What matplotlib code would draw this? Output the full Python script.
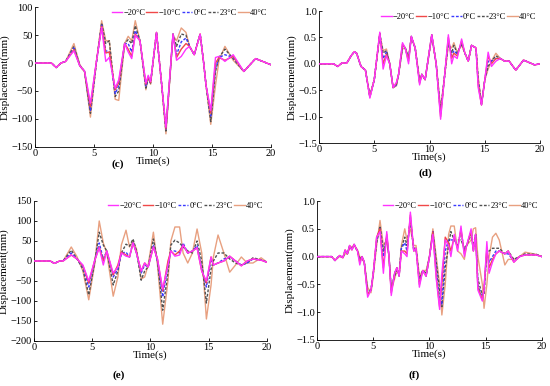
import matplotlib
matplotlib.use('Agg')
import matplotlib.pyplot as plt

plt.rcParams['font.family'] = ['Liberation Serif', 'DejaVu Serif']
plt.rcParams['mathtext.fontset'] = 'stix'

labels = ['\u221220°C', '\u221210°C', '0°C', '23°C', '40°C']

# panel (c)
t_c = [0, 1.4, 1.8, 2.2, 2.6, 3.3, 3.8, 4.2, 4.7, 5.2, 5.65, 6.0, 6.3, 6.8, 7.1,
       7.6, 7.9, 8.2, 8.5, 8.9, 9.4, 9.6, 9.8, 10.3, 10.7, 11.1, 11.7, 12.0, 12.4,
       12.8, 13.1, 13.5, 14.0, 14.3, 14.5, 14.9, 15.3, 15.6, 16.1, 16.8, 17.7, 18.7, 20]
c_m20 = [0, 0, -8, 0, 3, 22, -5, -14, -72, 2, 64, 3, 10, -45, -30, 35, 20, 8, 50, 40,
         -36, -22, -33, 55, -30, -115, 52, 5, 12, 25, 30, 15, 52, 0, -40, -85, 10, 12,
         3, 15, -15, 8, -3]
c_m10 = [0, 0, -8, 0, 3, 24, -5, -15, -78, 2, 66, 18, 20, -48, -35, 35, 25, 12, 52, 40,
         -38, -25, -35, 55, -30, -118, 52, 10, 25, 35, 30, 15, 52, 0, -40, -90, 0, 10,
         5, 12, -15, 8, -3]
c_0 = [0, 0, -8, 0, 3, 27, -5, -15, -85, 0, 68, 22, 20, -55, -40, 35, 35, 20, 58, 40,
       -42, -28, -35, 55, -30, -120, 52, 15, 38, 45, 30, 15, 52, 0, -40, -95, -10, 10,
       15, 10, -15, 8, -3]
c_23 = [0, 0, -8, 0, 3, 30, -4, -15, -90, 0, 72, 35, 40, -60, -50, 35, 42, 35, 67, 40,
        -45, -28, -36, 55, -30, -122, 52, 30, 52, 50, 30, 15, 52, 0, -40, -105, -15, 10,
        25, 8, -15, 8, -3]
c_40 = [0, 0, -8, 0, 3, 35, -3, -15, -97, 0, 76, 40, 40, -65, -67, 35, 48, 40, 76, 40,
        -48, -25, -38, 55, -30, -127, 50, 40, 63, 55, 30, 15, 52, 0, -40, -110, -40, 5,
        30, 5, -15, 8, -3]

# panel (d)
t_d = [0, 1.3, 1.7, 2.1, 2.5, 2.9, 3.2, 3.4, 3.8, 4.2, 4.6, 5.0, 5.5, 5.8, 6.1, 6.4,
       6.7, 7.0, 7.2, 7.55, 7.8, 8.1, 8.35, 8.7, 9.1, 9.3, 9.6, 10.2, 10.6, 11.0, 11.7,
       12.0, 12.2, 12.5, 12.9, 13.2, 13.5, 13.8, 14.2, 14.4, 14.7, 15.0, 15.3, 15.6,
       16.0, 16.4, 16.8, 17.2, 17.8, 18.5, 19.5, 20]
d_m20 = [0, 0, -0.05, 0.02, 0.01, 0.15, 0.23, 0.2, -0.05, -0.12, -0.65, -0.3, 0.6, -0.1,
         0.15, 0, -0.45, -0.35, -0.2, 0.4, 0.3, 0.0, 0.52, 0.3, -0.4, -0.2, -0.3, 0.55,
         0.0, -1.05, 0.55, 0.0, 0.15, 0.1, 0.47, 0.2, 0.05, 0.35, 0.3, -0.45, -0.78,
         -0.3, 0.22, -0.05, 0.05, 0.1, 0.05, 0.05, -0.12, 0.07, -0.02, 0]
d_m10 = [0, 0, -0.05, 0.02, 0.01, 0.15, 0.23, 0.2, -0.05, -0.12, -0.63, -0.3, 0.58, 0.0,
         0.18, 0, -0.45, -0.37, -0.2, 0.37, 0.3, 0.05, 0.52, 0.3, -0.37, -0.2, -0.3, 0.55,
         0.0, -1.0, 0.5, 0.1, 0.2, 0.15, 0.43, 0.2, 0.05, 0.35, 0.3, -0.4, -0.78,
         -0.3, 0.15, 0.0, 0.1, 0.1, 0.05, 0.05, -0.12, 0.07, -0.02, 0]
d_0 = [0, 0, -0.05, 0.02, 0.01, 0.15, 0.23, 0.2, -0.05, -0.12, -0.62, -0.3, 0.57, 0.1,
       0.22, 0, -0.45, -0.4, -0.2, 0.33, 0.3, 0.08, 0.52, 0.3, -0.35, -0.2, -0.3, 0.55,
       0.0, -0.95, 0.45, 0.15, 0.25, 0.18, 0.4, 0.2, 0.05, 0.35, 0.3, -0.35, -0.77,
       -0.3, 0.05, 0.05, 0.1, 0.1, 0.05, 0.05, -0.12, 0.07, -0.02, 0]
d_23 = [0, 0, -0.05, 0.02, 0.01, 0.15, 0.23, 0.2, -0.05, -0.12, -0.62, -0.3, 0.57, 0.2,
        0.25, 0, -0.45, -0.4, -0.2, 0.3, 0.3, 0.1, 0.5, 0.3, -0.33, -0.2, -0.3, 0.53,
        0.0, -0.9, 0.4, 0.2, 0.35, 0.2, 0.38, 0.2, 0.05, 0.35, 0.3, -0.3, -0.76,
        -0.3, -0.05, 0.05, 0.15, 0.1, 0.05, 0.05, -0.12, 0.07, -0.02, 0]
d_40 = [0, 0, -0.05, 0.02, 0.01, 0.15, 0.23, 0.2, -0.05, -0.12, -0.6, -0.3, 0.55, 0.25,
        0.28, 0, -0.45, -0.42, -0.2, 0.28, 0.3, 0.12, 0.5, 0.3, -0.3, -0.2, -0.3, 0.52,
        0.0, -0.85, 0.35, 0.3, 0.4, 0.22, 0.35, 0.2, 0.05, 0.35, 0.3, -0.25, -0.75,
        -0.3, -0.1, 0.05, 0.2, 0.1, 0.05, 0.05, -0.12, 0.07, -0.02, 0]

# panel (e)
t_e = [0, 1.4, 1.75, 2.2, 2.5, 3.2, 3.7, 4.2, 4.7, 5.2, 5.6, 5.95, 6.25, 6.8, 7.2,
       7.5, 7.9, 8.2, 8.5, 8.8, 9.2, 9.5, 9.8, 10.25, 10.6, 11.05, 11.5, 11.75, 12.1,
       12.5, 12.8, 13.2, 13.6, 14.0, 14.4, 14.8, 15.2, 15.4, 15.8, 16.3, 16.8, 17.3,
       17.8, 18.3, 18.8, 19.5, 20]
e_m20 = [0, 0, -6, 0, 0, 15, 5, -10, -50, 0, 33, -10, 25, -30, -15, 20, 12, 10, 45, 20,
         -25, -5, -15, 35, 5, -70, -10, 25, 12, 15, 40, 20, 25, 33, -25, -50, 10, -10,
         -5, 0, 12, 0, -12, 0, 5, 2, -3]
e_m10 = [0, 0, -6, 0, 0, 15, 5, -12, -55, 0, 35, 0, 25, -35, -10, 22, 15, 10, 45, 20,
         -25, -5, -15, 35, 5, -75, 0, 25, 15, 25, 40, 20, 25, 33, -25, -55, 10, -10,
         -5, 0, 12, 0, -12, 0, 5, 2, -3]
e_0 = [0, 0, -6, 0, 0, 20, 5, -15, -65, 0, 45, 5, 25, -40, -20, 20, 22, 10, 48, 20,
       -30, -10, -15, 40, 0, -90, -10, 25, 25, 20, 45, 20, 25, 38, -20, -65, 5, -10,
       -5, 5, 10, 0, -10, -5, 5, 2, -3]
e_23 = [0, 0, -6, 0, 0, 27, 5, -20, -85, -5, 72, 40, 25, -60, -25, 20, 42, 37, 55, 25,
        -48, -25, -15, 55, 0, -123, -30, 40, 52, 45, 35, 25, 20, 50, 0, -105, -20, 0,
        20, 20, 5, -5, -10, -5, 8, 3, -3]
e_40 = [0, 0, -6, 0, 0, 35, 10, -25, -97, -10, 100, 45, 20, -88, -40, 40, 77, 35, 50, 30,
        -45, -40, -10, 72, -10, -158, -50, 50, 85, 85, 20, -5, 20, 80, 20, -145, -60, 10,
        65, 20, -28, -10, 10, -5, -5, 8, -3]

# panel (f)
t_f = [0, 1.3, 1.6, 2.0, 2.3, 2.5, 2.7, 2.9, 3.1, 3.3, 3.6, 3.8, 4.0, 4.2, 4.5, 4.8,
       5.0, 5.3, 5.6, 5.9, 6.2, 6.4, 6.6, 6.9, 7.1, 7.3, 7.5, 7.8, 8.0, 8.3, 8.6, 8.8,
       9.1, 9.4, 9.7, 10.0, 10.3, 10.6, 10.9, 11.1, 11.4, 11.7, 11.9, 12.2, 12.5, 12.8,
       13.1, 13.3, 13.7, 13.9, 14.1, 14.3, 14.7, 14.85, 15.1, 15.3, 15.6, 15.9, 16.2,
       16.7, 17.0, 17.5, 18.0, 18.5, 19.5, 20]
f_m20 = [0, 0, -0.07, 0.02, -0.02, 0.12, 0.05, 0.2, 0.12, 0.22, 0.1, -0.15, 0.0, -0.1,
         -0.73, -0.6, -0.3, 0.35, 0.45, -0.3, 0.45, 0.0, -0.7, -0.3, -0.2, -0.35, 0.1,
         0.05, 0.0, 0.8, 0.1, 0.15, -0.55, -0.25, -0.35, 0.0, 0.4, -0.4, -0.95, -0.3,
         0.3, 0.2, 0.0, 0.4, 0.1, 0.55, 0.0, 0.2, 0.5, 0.1, 0.4, -0.6, -0.8, -0.6, 0.27,
         -0.3, -0.1, 0.05, 0.1, 0.05, 0.1, -0.1, 0.0, 0.03, 0.03, 0]
f_m10 = [0, 0, -0.07, 0.02, -0.02, 0.12, 0.05, 0.2, 0.12, 0.22, 0.1, -0.1, 0.0, -0.1,
         -0.68, -0.6, -0.3, 0.35, 0.5, -0.2, 0.4, 0.0, -0.65, -0.3, -0.2, -0.35, 0.1,
         0.1, 0.05, 0.75, 0.1, 0.15, -0.5, -0.25, -0.35, 0.0, 0.45, -0.35, -0.9, -0.5,
         0.35, 0.25, 0.1, 0.35, 0.15, 0.5, 0.05, 0.2, 0.45, 0.1, 0.4, -0.55, -0.78, -0.55,
         0.15, -0.2, -0.05, 0.05, 0.1, 0.05, 0.1, -0.1, 0.0, 0.03, 0.03, 0]
f_0 = [0, 0, -0.07, 0.02, -0.02, 0.12, 0.05, 0.2, 0.12, 0.22, 0.1, -0.08, 0.0, -0.1,
       -0.65, -0.6, -0.3, 0.3, 0.5, 0.0, 0.35, 0.0, -0.6, -0.3, -0.2, -0.35, 0.15,
       0.25, 0.1, 0.7, 0.1, 0.15, -0.45, -0.25, -0.35, 0.0, 0.45, -0.2, -0.8, -0.85,
       0.1, 0.3, 0.3, 0.3, 0.2, 0.45, 0.1, 0.2, 0.45, 0.1, 0.4, -0.5, -0.75, -0.6, 0.1,
       -0.1, 0.0, 0.1, 0.1, 0.05, 0.05, -0.08, 0.0, 0.03, 0.03, 0]
f_23 = [0, 0, -0.07, 0.02, -0.02, 0.1, 0.05, 0.18, 0.15, 0.2, 0.1, -0.05, 0.0, -0.1,
        -0.62, -0.6, -0.3, 0.25, 0.55, 0.1, 0.35, 0.0, -0.6, -0.35, -0.25, -0.3, 0.15,
        0.35, 0.2, 0.65, 0.15, 0.15, -0.4, -0.25, -0.3, 0.0, 0.45, -0.1, -0.6, -0.9,
        -0.2, 0.2, 0.45, 0.3, 0.3, 0.3, 0.15, 0.2, 0.4, 0.2, 0.4, -0.4, -0.7, -0.7, 0.1,
        0.1, 0.15, 0.15, 0.15, 0.05, 0.1, -0.05, 0.0, 0.05, 0.04, 0]
f_40 = [0, 0, -0.06, 0.0, -0.02, 0.05, 0.05, 0.15, 0.18, 0.2, 0.12, 0.0, -0.05, -0.1,
        -0.55, -0.65, -0.35, 0.2, 0.65, 0.2, 0.3, 0.0, -0.6, -0.4, -0.25, -0.3, 0.2,
        0.5, 0.3, 0.5, 0.2, 0.2, -0.35, -0.25, -0.25, 0.0, 0.5, 0.0, -0.5, -1.05,
        -0.5, 0.4, 0.55, 0.55, 0.1, 0.05, -0.05, 0.2, 0.3, 0.5, 0.52, 0.0, -0.5, -0.93,
        -0.5, 0.0, 0.35, 0.42, 0.3, -0.15, -0.05, -0.05, 0.0, 0.08, 0.04, 0]

colors = ['#ff33ff', '#f04848', '#3a3aff', '#505050', '#e8a080']
styles = ['-', '-', (0, (2, 1.2)), (0, (2, 1.2)), '-']
draw_order = [4, 3, 2, 0, 1]


def draw_panel(ax, t, series, ylim, yticks, tag, tag_xy):
    for i in draw_order:
        ax.plot(t, series[i], color=colors[i], linestyle=styles[i], lw=1.0,
                label=labels[i], zorder=2 + (4 - i))
    ax.set_xlim(0, 20)
    ax.set_ylim(*ylim)
    ax.set_xticks([0, 5, 10, 15, 20])
    ax.set_yticks(yticks)
    ax.spines['top'].set_visible(False)
    ax.spines['right'].set_visible(False)
    for s in ['left', 'bottom']:
        ax.spines[s].set_linewidth(0.6)
    ax.tick_params(direction='in', length=2.5, width=0.6, labelsize=7.5, pad=1.5)
    ax.set_xlabel('Time(s)', fontsize=8, labelpad=-1)
    ax.set_ylabel('Displacement(mm)', fontsize=8, labelpad=1)
    h, l = ax.get_legend_handles_labels()
    order = [l.index(lab) for lab in labels]
    ax.legend([h[k] for k in order], [l[k] for k in order], loc='upper right',
              ncol=5, frameon=False, fontsize=6, handlelength=1.3,
              handletextpad=0.1, columnspacing=0.15, borderaxespad=0.1,
              bbox_to_anchor=(1.0, 1.02))
    fig.text(tag_xy[0], tag_xy[1], tag, fontsize=8, fontweight='bold',
             ha='center', va='center')


fig = plt.figure(figsize=(5.5, 3.86), dpi=100)
ax_c = fig.add_axes([0.0636, 0.620, 0.429, 0.361])
ax_d = fig.add_axes([0.580, 0.6295, 0.402, 0.342])
ax_e = fig.add_axes([0.0618, 0.1166, 0.4236, 0.3627])
ax_f = fig.add_axes([0.5764, 0.1192, 0.409, 0.360])

draw_panel(ax_c, t_c, [c_m20, c_m10, c_0, c_23, c_40], (-150, 100),
           [-150, -100, -50, 0, 50, 100], '(c)', (0.2145, 0.575))
draw_panel(ax_d, t_d, [d_m20, d_m10, d_0, d_23, d_40], (-1.5, 1),
           [-1.5, -1, -0.5, 0, 0.5, 1], '(d)', (0.773, 0.552))
draw_panel(ax_e, t_e, [e_m20, e_m10, e_0, e_23, e_40], (-200, 150),
           [-200, -150, -100, -50, 0, 50, 100, 150], '(e)', (0.216, 0.028))
draw_panel(ax_f, t_f, [f_m20, f_m10, f_0, f_23, f_40], (-1.5, 1),
           [-1.5, -1, -0.5, 0, 0.5, 1], '(f)', (0.753, 0.028))

fig.savefig('out.png', dpi=100)
